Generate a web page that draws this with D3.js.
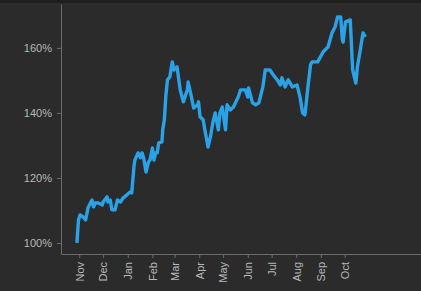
<!DOCTYPE html>
<html>
<head>
<meta charset="utf-8">
<script src="https://cdn.jsdelivr.net/npm/d3@7"></script>
<style>
  body { margin: 0; background: #2b2b2b; }
  svg { display: block; }
  .axis text { font-family: "Liberation Sans", Arial, sans-serif; font-size: 11px; fill: #b8b8b8; }
  .axis path, .axis line { stroke: #6c6c6c; }
</style>
</head>
<body>
<script>
var width = 421;
var height = 291;
var margin = {top: 4, left: 61, bottom: 37};

// data
var dates = ["2016-10-29","2016-10-31","2016-11-02","2016-11-06","2016-11-09","2016-11-12","2016-11-17","2016-11-19",
  "2016-11-21","2016-11-25","2016-11-30","2016-12-01","2016-12-06","2016-12-07","2016-12-10","2016-12-12",
  "2016-12-16","2016-12-19","2016-12-23","2016-12-26","2016-12-31","2017-01-04","2017-01-06","2017-01-09",
  "2017-01-10","2017-01-14","2017-01-17","2017-01-19","2017-01-21","2017-01-24","2017-01-27","2017-01-29",
  "2017-02-01","2017-02-03","2017-02-05","2017-02-07","2017-02-09","2017-02-13","2017-02-14","2017-02-16",
  "2017-02-18","2017-02-20","2017-02-23","2017-02-26","2017-02-28","2017-03-04","2017-03-08","2017-03-12",
  "2017-03-17","2017-03-18","2017-03-21","2017-03-25","2017-03-30","2017-03-31","2017-04-02","2017-04-06",
  "2017-04-08","2017-04-12","2017-04-15","2017-04-18","2017-04-21","2017-04-25","2017-04-27","2017-04-30",
  "2017-05-04","2017-05-06","2017-05-10","2017-05-14","2017-05-20","2017-05-23","2017-05-29","2017-06-01",
  "2017-06-02","2017-06-07","2017-06-11","2017-06-15","2017-06-20","2017-06-23","2017-06-29","2017-07-03",
  "2017-07-08","2017-07-12","2017-07-14","2017-07-18","2017-07-22","2017-07-27","2017-08-02","2017-08-06",
  "2017-08-09","2017-08-12","2017-08-16","2017-08-19","2017-08-21","2017-08-28","2017-09-04","2017-09-10",
  "2017-09-15","2017-09-19","2017-09-22","2017-09-26","2017-09-28","2017-09-29","2017-10-02","2017-10-08",
  "2017-10-11","2017-10-15","2017-10-17","2017-10-20","2017-10-24","2017-10-27"];
var values = [100.0,107.1,108.6,108.0,107.1,110.8,113.2,111.1,
  112.3,112.3,111.7,112.6,114.2,112.6,113.2,110.2,
  110.2,113.2,112.6,113.8,114.8,115.7,115.4,124.0,
  125.5,127.7,126.2,127.7,126.2,121.8,124.9,125.5,
  129.2,125.5,127.7,127.7,130.8,131.1,134.8,137.8,
  145.5,150.2,151.1,155.7,153.2,154.2,147.1,143.4,
  147.1,149.5,146.2,141.5,142.5,143.4,138.8,137.8,
  134.8,129.5,132.6,136.9,140.0,134.8,140.0,141.8,
  134.8,142.5,140.9,141.8,144.9,147.1,147.1,144.9,
  147.7,143.1,142.5,143.1,148.0,153.2,153.2,151.7,
  150.2,148.6,150.8,148.0,150.2,148.0,148.6,144.6,
  140.0,139.4,148.6,154.8,155.7,155.7,158.8,160.3,
  164.6,166.5,169.5,169.5,162.5,161.8,168.0,168.6,
  153.2,149.2,154.2,158.5,164.6,163.4];
var xDomain = ["2016-10-09", "2018-01-05"];
var yDomain = [96.6, 173.5];
var yTicks = [100, 120, 140, 160];
var monthTicks = ["2016-11-01","2016-12-01","2017-01-01","2017-02-01","2017-03-01","2017-04-01",
  "2017-05-01","2017-06-01","2017-07-01","2017-08-01","2017-09-01","2017-10-01"];

var parse = d3.timeParse("%Y-%m-%d");
var data = dates.map(function(d, i) { return {date: parse(d), value: values[i]}; });

var xScale = d3.scaleTime().domain(xDomain.map(parse)).range([margin.left, width]);
var yScale = d3.scaleLinear().domain(yDomain).range([height - margin.bottom, margin.top]);

var svg = d3.select("body")
            .append("svg")
            .attr("width", width)
            .attr("height", height);

svg.append("rect").attr("width", width).attr("height", height).attr("fill", "#2b2b2b");
svg.append("rect").attr("width", width).attr("height", 3).attr("fill", "#1f1f1f");

// X axis
var xAxis = svg.append("g")
               .attr("class", "axis")
               .attr("transform", `translate(0, ${height - margin.bottom})`)
               .call(d3.axisBottom(xScale)
                       .tickValues(monthTicks.map(parse))
                       .tickFormat(d3.timeFormat("%b"))
                       .tickSize(4)
                       .tickSizeOuter(0));
xAxis.selectAll("text")
     .attr("transform", "rotate(-90)")
     .attr("x", -8)
     .attr("y", 0)
     .attr("dy", "0.35em")
     .style("text-anchor", "end");

// Y axis
var yAxis = svg.append("g")
               .attr("class", "axis")
               .attr("transform", `translate(${margin.left}, 0)`)
               .call(d3.axisLeft(yScale)
                       .tickValues(yTicks)
                       .tickFormat(function(d) { return d + "%"; })
                       .tickSize(4)
                       .tickPadding(5)
                       .tickSizeOuter(0));

// line
var line_plot = d3.line()
              .x(function(d) { return xScale(d.date); })
              .y(function(d) { return yScale(d.value); });

svg.append("path")
   .datum(data)
   .attr("fill", "none")
   .attr("stroke", "#29a2e8")
   .attr("stroke-width", 3.4)
   .attr("stroke-linejoin", "round")
   .attr("d", line_plot);
</script>
</body>
</html>
